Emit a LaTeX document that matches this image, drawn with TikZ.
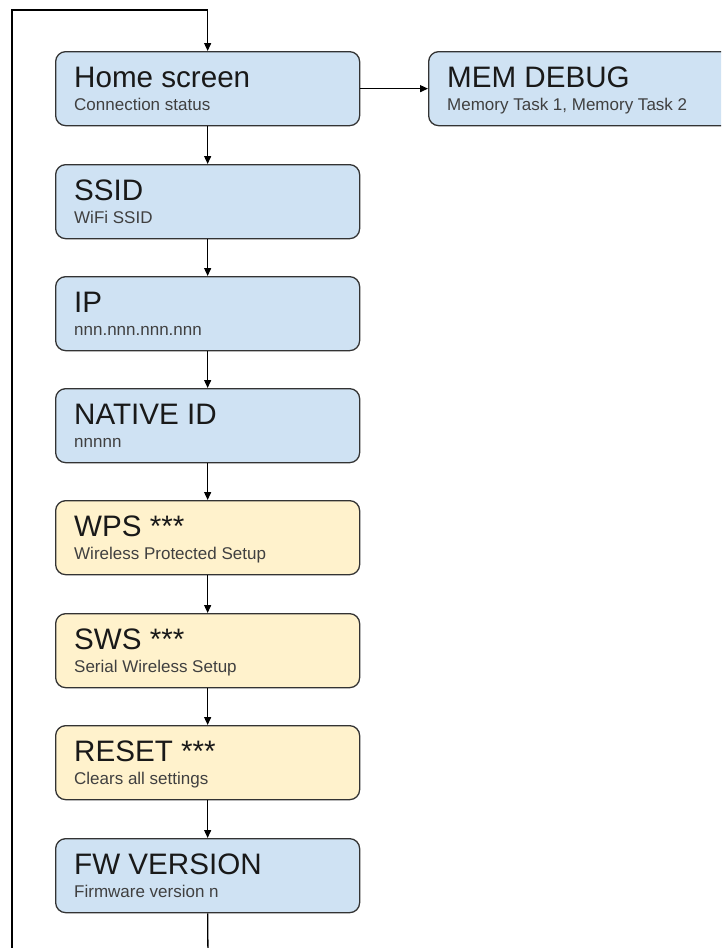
\documentclass[tikz,border=0pt]{standalone}
\usepackage{fontspec}
\setmainfont{Liberation Sans}
\usetikzlibrary{arrows.meta,calc}
\definecolor{bluefill}{HTML}{CFE2F3}
\definecolor{yellowfill}{HTML}{FFF2CC}
\definecolor{edge}{HTML}{333333}
\tikzset{
  box/.style={draw=edge, line width=1.3pt, rounded corners=10pt, minimum width=304pt, minimum height=74pt, inner sep=0pt, anchor=north west},
  bluebox/.style={box, fill=bluefill},
  yellowbox/.style={box, fill=yellowfill},
  ttl/.style={anchor=base west, inner sep=0pt, font=\fontsize{29.6}{34}\selectfont, text=black!90},
  sub/.style={anchor=base west, inner sep=0pt, font=\fontsize{17}{20}\selectfont, text=black!75},
  conn/.style={draw=black, line width=1.3pt},
  arr/.style={conn, -{Triangle[length=8pt,width=7pt]}},
}
\begin{document}
\begin{tikzpicture}[x=1pt,y=-1pt]
\useasboundingbox (0,0) rectangle (721,948);
\clip (0,0) rectangle (721,948);
\node[bluebox] (home) at (55,51) {};
\node[bluebox] (mem) at (428,51) {};
\node[bluebox] (ssid) at (55,164) {};
\node[bluebox] (ip) at (55,276) {};
\node[bluebox] (nid) at (55,388) {};
\node[yellowbox] (wps) at (55,500) {};
\node[yellowbox] (sws) at (55,613) {};
\node[yellowbox] (reset) at (55,725) {};
\node[bluebox] (fw) at (55,838) {};
% texts
\foreach \b/\t/\s in {home/Home screen/Connection status,
  mem/MEM DEBUG/{Memory Task 1, Memory Task 2},
  ssid/SSID/WiFi SSID,
  ip/IP/nnn.nnn.nnn.nnn,
  nid/NATIVE ID/nnnnn,
  wps/WPS ***/Wireless Protected Setup,
  sws/SWS ***/Serial Wireless Setup,
  reset/RESET ***/Clears all settings,
  fw/FW VERSION/Firmware version n}{
  \node[ttl] (\b-t) at ($(\b.north west)+(19,36.5)$) {\t};
  \node[sub] (\b-s) at ($(\b.north west)+(19,59)$) {\s};
}
% connectors
\draw[arr] (home) -- (ssid);
\draw[arr] (ssid) -- (ip);
\draw[arr] (ip) -- (nid);
\draw[arr] (nid) -- (wps);
\draw[arr] (wps) -- (sws);
\draw[arr] (sws) -- (reset);
\draw[arr] (reset) -- (fw);
\draw[arr] (home.east) -- (mem.west);
\coordinate (fwend) at (208,960);
\coordinate (loopbot) at (12,960);
\coordinate (looptop) at (12,10);
\draw[conn] (fw.south) -- (fwend);
\draw[arr] (loopbot) -- (looptop) -| (home.north);
\end{tikzpicture}
\end{document}
